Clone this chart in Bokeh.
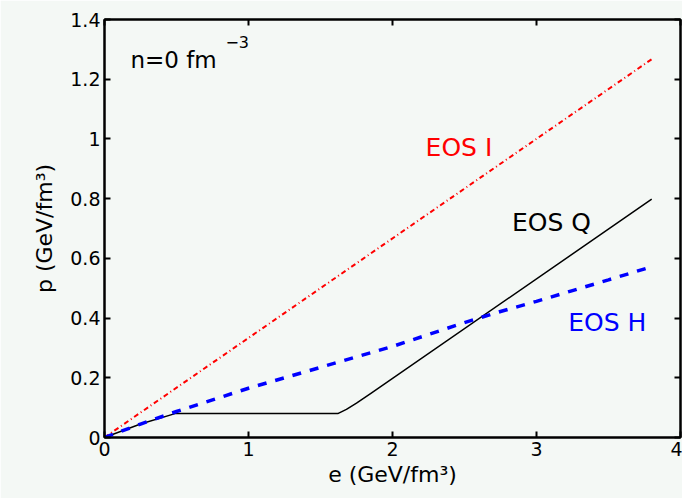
from bokeh.plotting import figure
from bokeh.models import Range1d, FixedTicker, LinearAxis, Label
from bokeh.embed import file_html
from bokeh.resources import INLINE

# Equations of state at zero net baryon density: pressure p vs energy density e
e_ideal = [0.0, 3.8]
p_ideal = [0.0, 1.267]

e_q = [0.0, 0.25, 0.49, 1.62, 1.68, 1.75, 1.85, 3.8]
p_q = [0.0, 0.045, 0.08, 0.08, 0.094, 0.115, 0.148, 0.798]

e_h = [0.0, 0.25, 0.5, 0.75, 1.0, 1.25, 1.5, 1.75, 2.0, 2.25, 2.5, 2.75, 3.0, 3.25, 3.5, 3.8]
p_h = [0.0, 0.045, 0.087, 0.126, 0.165, 0.2, 0.235, 0.27, 0.305, 0.345, 0.385, 0.422, 0.456, 0.492, 0.528, 0.572]

x_ticks = [0, 1, 2, 3, 4]
y_ticks = [0, 0.2, 0.4, 0.6, 0.8, 1.0, 1.2, 1.4]
y_tick_labels = {0: "0", 0.2: "0.2", 0.4: "0.4", 0.6: "0.6", 0.8: "0.8",
                 1.0: "1", 1.2: "1.2", 1.4: "1.4"}

BG = "#f4f8f5"
FONT = "DejaVu Sans"

p = figure(width=682, height=498, output_backend="svg", toolbar_location=None,
           x_range=Range1d(0, 4), y_range=Range1d(0, 1.4),
           background_fill_color=BG, border_fill_color=BG,
           min_border_left=104, min_border_right=2, min_border_top=19,
           min_border_bottom=61)
p.grid.visible = False
p.outline_line_color = "black"
p.outline_line_width = 2


def style_axis(ax):
    ax.axis_line_width = 2
    ax.major_tick_in = 6
    ax.major_tick_out = 0
    ax.major_tick_line_width = 2
    ax.minor_tick_line_color = None
    ax.major_label_text_font = FONT
    ax.major_label_text_font_size = "19px"
    ax.major_label_text_color = "black"
    ax.major_label_standoff = 4
    ax.axis_label_text_font = FONT
    ax.axis_label_text_font_style = "normal"
    ax.axis_label_text_font_size = "22px"
    ax.axis_label_text_color = "black"


p.xaxis.ticker = FixedTicker(ticks=x_ticks)
p.yaxis.ticker = FixedTicker(ticks=y_ticks)
p.yaxis.major_label_overrides = y_tick_labels
p.xaxis.axis_label = "e (GeV/fm³)"
p.yaxis.axis_label = "p (GeV/fm³)"
p.xaxis.axis_label_standoff = 3
p.yaxis.axis_label_standoff = 10
style_axis(p.xaxis[0])
style_axis(p.yaxis[0])

# Box-style tick marks on the top and right edges, without labels
top = LinearAxis(ticker=FixedTicker(ticks=x_ticks))
right = LinearAxis(ticker=FixedTicker(ticks=y_ticks))
for ax, ticks in ((top, x_ticks), (right, y_ticks)):
    style_axis(ax)
    ax.major_label_text_font_size = "1px"
    ax.major_label_standoff = 0
    ax.major_label_overrides = {t: "" for t in ticks}
p.add_layout(top, "above")
p.add_layout(right, "right")

p.line(e_ideal, p_ideal, line_color="red", line_width=2, line_dash="5 3 1 3")
p.line(e_q, p_q, line_color="black", line_width=1.5)
p.line(e_h, p_h, line_color="blue", line_width=3.5, line_dash="9 9")

labels = [
    ("EOS I", 2.23, 0.971, "red"),
    ("EOS Q", 2.83, 0.72, "black"),
    ("EOS H", 3.22, 0.385, "blue"),
]
for txt, x, y, c in labels:
    p.add_layout(Label(x=x, y=y, text=txt, text_color=c, text_font=FONT,
                       text_font_size="25px", text_baseline="alphabetic"))

p.add_layout(Label(x=0.18, y=1.266, text="n=0 fm", text_color="black",
                   text_font=FONT, text_font_size="23px",
                   text_baseline="alphabetic"))
p.add_layout(Label(x=0.84, y=1.325, text="−3", text_color="black",
                   text_font=FONT, text_font_size="16px",
                   text_baseline="alphabetic"))

open("out.html", "w").write(file_html(p, INLINE))
